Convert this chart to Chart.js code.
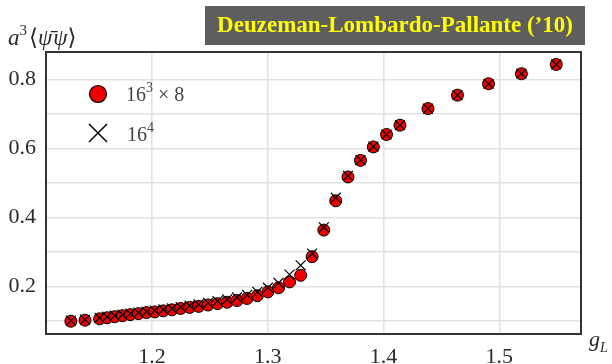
<!DOCTYPE html>
<html>
<head>
<meta charset="utf-8">
<title>Chiral condensate vs g_L</title>
<script src="https://cdn.jsdelivr.net/npm/chart.js@4.4.0/dist/chart.umd.min.js"></script>
<style>
  html, body { margin: 0; padding: 0; background: #fff; }
  #wrap { width: 612px; height: 364px; position: relative; }
</style>
</head>
<body>
<div id="wrap"><canvas id="condensateChart" width="612" height="364"></canvas></div>
<script>
// bare lattice coupling g_L (beta = 6 / g_L^2 from 4.7 down to 2.5)
const gL = [
  1.1299, 1.1421, 1.1547, 1.1612, 1.1677, 1.1744, 1.1812, 1.1882, 1.1952, 1.2024,
  1.2097, 1.2172, 1.2247, 1.2325, 1.2403, 1.2484, 1.2566, 1.2649, 1.2734, 1.2821,
  1.2910, 1.3001, 1.3093, 1.3188, 1.3284, 1.3383, 1.3484, 1.3587, 1.3693, 1.3801,
  1.3912, 1.4026, 1.4142, 1.4384, 1.4639, 1.4907, 1.5191, 1.5492
];
// a^3 <psibar psi> on the 16^3 x 8 lattice
const cond16x8 = [
  0.100, 0.103, 0.107, 0.110, 0.113, 0.116, 0.119, 0.122, 0.125, 0.127,
  0.130, 0.133, 0.137, 0.140, 0.143, 0.147, 0.151, 0.155, 0.160, 0.166,
  0.174, 0.185, 0.197, 0.214, 0.233, 0.287, 0.364, 0.449, 0.518, 0.566,
  0.605, 0.641, 0.668, 0.716, 0.755, 0.788, 0.817, 0.844
];
// a^3 <psibar psi> on the 16^4 lattice
const cond16x16 = [
  0.102, 0.105, 0.110, 0.113, 0.116, 0.119, 0.122, 0.125, 0.128, 0.131,
  0.134, 0.137, 0.141, 0.145, 0.149, 0.153, 0.158, 0.163, 0.169, 0.176,
  0.185, 0.197, 0.211, 0.235, 0.262, 0.296, 0.372, 0.458, 0.521, 0.567,
  0.606, 0.641, 0.668, 0.716, 0.755, 0.788, 0.817, 0.844
];
const xTicks = [1.2, 1.3, 1.4, 1.5];
const yTicks = [0.1, 0.2, 0.3, 0.4, 0.5, 0.6, 0.7, 0.8];
const yLabelled = ['0.2', '0.4', '0.6', '0.8'];
// legend text as [base, superscript, tail]
const seriesLabels = [['16', '3', ' \u00D7 8'], ['16', '4', '']];

const SERIF = '"Liberation Serif", "DejaVu Serif", serif';
const INK = '#2a2a2a';

const pts = ys => gL.map((x, i) => ({ x: x, y: ys[i] }));

// frame around the plotting area
const framePlugin = {
  id: 'frame',
  afterDatasetsDraw(chart) {
    const { ctx, chartArea: a } = chart;
    ctx.save();
    ctx.strokeStyle = '#333';
    ctx.lineWidth = 2;
    ctx.strokeRect(a.left, a.top, a.right - a.left, a.bottom - a.top);
    ctx.restore();
  }
};

// title box, axis titles and the legend
const decorPlugin = {
  id: 'decor',
  afterDraw(chart) {
    const ctx = chart.ctx;
    ctx.save();

    // title banner
    ctx.fillStyle = '#5e5e5e';
    ctx.fillRect(205, 6, 380, 39);
    ctx.fillStyle = '#ffff00';
    ctx.font = 'bold 23px ' + SERIF;
    ctx.textAlign = 'center';
    ctx.textBaseline = 'middle';
    ctx.fillText('Deuzeman-Lombardo-Pallante (\u201910)', 395, 26);

    ctx.textAlign = 'left';
    ctx.textBaseline = 'alphabetic';
    let x = 0;
    let base = 0;
    const put = (txt, font, dy) => {
      ctx.font = font;
      ctx.fillText(txt, x, base + (dy || 0));
      x += ctx.measureText(txt).width;
    };

    // y axis title: a^3 <psibar psi>
    ctx.fillStyle = INK;
    x = 8; base = 45;
    put('a', 'italic 23px ' + SERIF);
    put('3', '15px ' + SERIF, -10);
    x += 2;
    put('\u27E8', '23px ' + SERIF);
    put('\u03C8\u0304', 'italic 23px ' + SERIF);
    x += 1;
    put('\u03C8', 'italic 23px ' + SERIF);
    put('\u27E9', '23px ' + SERIF);

    // x axis title: g_L
    x = 589; base = 346;
    put('g', 'italic 22px ' + SERIF);
    put('L', 'italic 14px ' + SERIF, 6);

    // legend markers
    ctx.fillStyle = '#ee0000';
    ctx.strokeStyle = '#000';
    ctx.lineWidth = 1.2;
    ctx.beginPath();
    ctx.arc(98, 94, 8.5, 0, Math.PI * 2);
    ctx.fill();
    ctx.stroke();

    ctx.beginPath();
    ctx.moveTo(89, 124); ctx.lineTo(107, 142);
    ctx.moveTo(107, 124); ctx.lineTo(89, 142);
    ctx.lineWidth = 1.5;
    ctx.stroke();

    // legend text
    ctx.fillStyle = '#444';
    [[126, 101], [127, 141]].forEach(([lx, ly], i) => {
      const [b, sup, tail] = seriesLabels[i];
      x = lx; base = ly;
      put(b, '20px ' + SERIF);
      put(sup, '14px ' + SERIF, -9);
      if (tail) put(tail, '20px ' + SERIF);
    });
    ctx.restore();
  }
};

new Chart(document.getElementById('condensateChart'), {
  type: 'scatter',
  data: {
    datasets: [
      {
        label: '16^4',
        data: pts(cond16x16),
        pointStyle: 'crossRot',
        pointRadius: 7,
        borderColor: '#000',
        borderWidth: 1.2,
        order: 0
      },
      {
        label: '16^3 x 8',
        data: pts(cond16x8),
        pointStyle: 'circle',
        pointRadius: 6,
        backgroundColor: '#ee0000',
        borderColor: '#000',
        borderWidth: 1,
        order: 1
      }
    ]
  },
  options: {
    responsive: false,
    animation: false,
    layout: { padding: { top: 52, right: 31, left: 0, bottom: 0 } },
    plugins: {
      legend: { display: false },
      tooltip: { enabled: false }
    },
    scales: {
      x: {
        type: 'linear',
        min: 1.1084,
        max: 1.5706,
        afterFit(scale) { scale.height = 30; },
        afterBuildTicks(scale) { scale.ticks = xTicks.map(v => ({ value: v })); },
        grid: { color: '#e2e2e2', lineWidth: 1.5, drawTicks: false },
        border: { display: false },
        ticks: {
          padding: 10,
          color: INK,
          font: { family: SERIF, size: 22 },
          callback: v => v.toFixed(1)
        }
      },
      y: {
        type: 'linear',
        min: 0.063,
        max: 0.88,
        afterFit(scale) { scale.width = 46; },
        afterBuildTicks(scale) { scale.ticks = yTicks.map(v => ({ value: v })); },
        grid: { color: '#e2e2e2', lineWidth: 1.5, drawTicks: false },
        border: { display: false },
        ticks: {
          padding: 10,
          color: INK,
          font: { family: SERIF, size: 22 },
          callback: v => {
            const s = v.toFixed(1);
            return yLabelled.includes(s) ? s : '';
          }
        }
      }
    }
  },
  plugins: [framePlugin, decorPlugin]
});
</script>
</body>
</html>
